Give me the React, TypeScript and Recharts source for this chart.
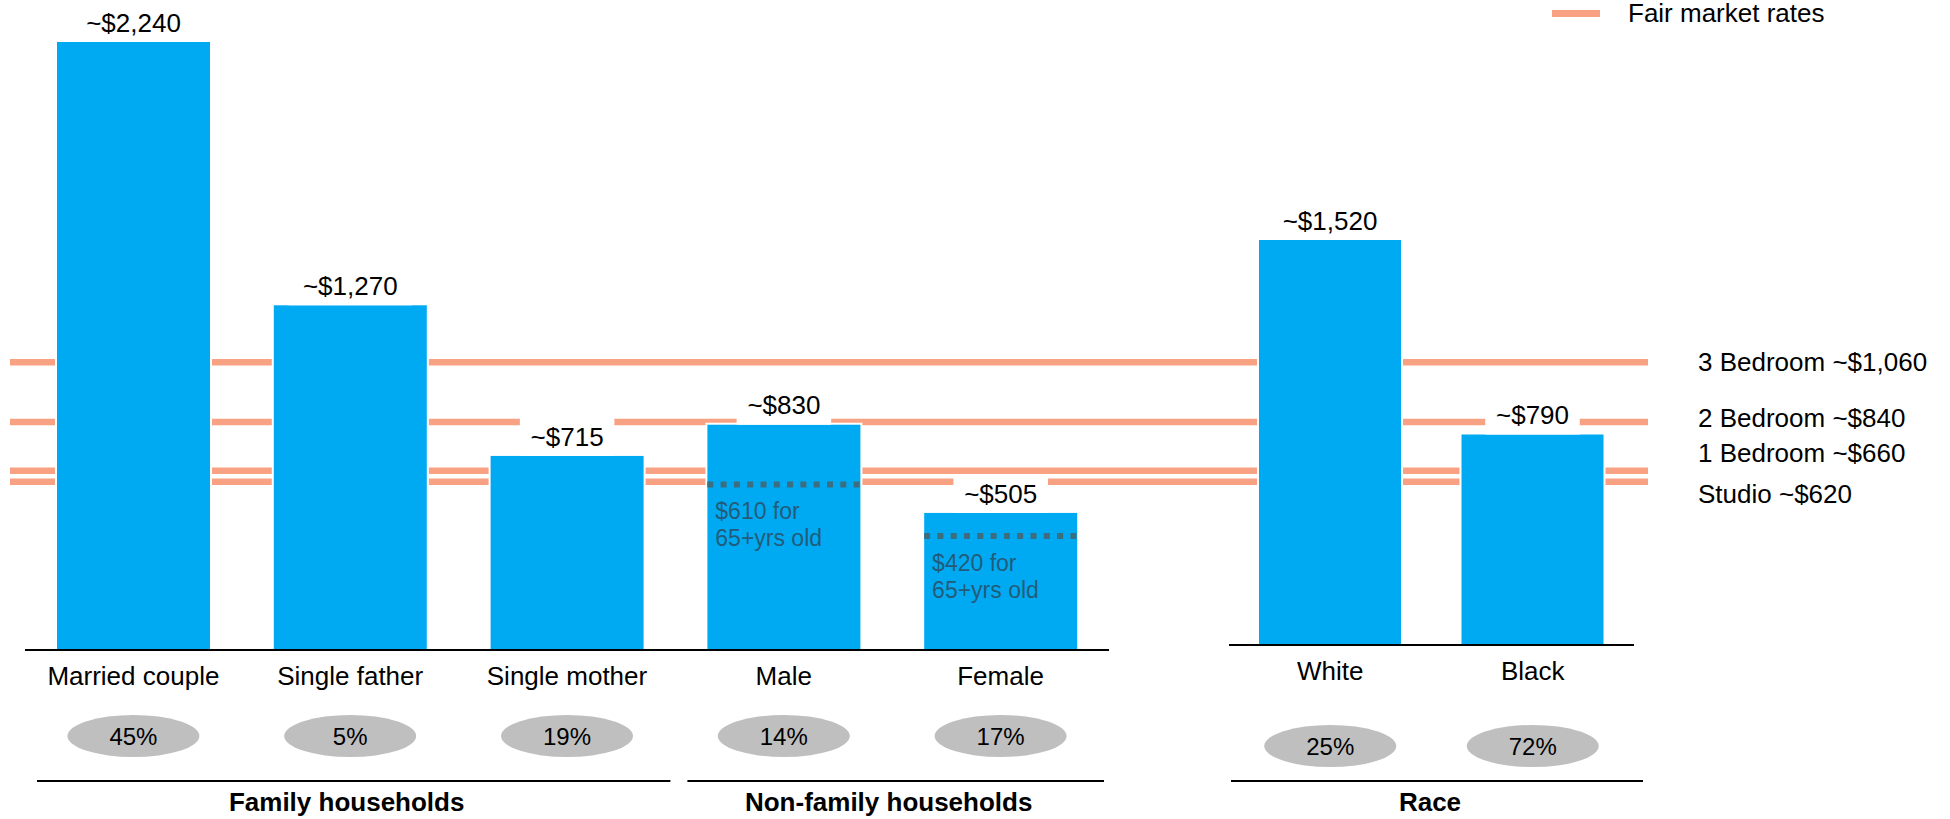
import {
    Bar,
    ComposedChart,
    LabelList,
    Line,
    ReferenceLine,
    XAxis,
    YAxis,
} from "recharts"

// household income by type, with the share of each group that is rent-burdened
const householdTypes = ["Married couple", "Single father", "Single mother", "Male", "Female"];
const householdIncome = [2240, 1270, 715, 830, 505];
const householdShare = [45, 5, 19, 14, 17];
const householdGroup = [
    "Family households",
    "Family households",
    "Family households",
    "Non-family households",
    "Non-family households",
];
const seniorIncome = [null, null, null, 610, 420];

const raceTypes = ["White", "Black"];
const raceIncome = [1520, 790];
const raceShare = [25, 72];
const raceGroup = ["Race", "Race"];

const rentTypes = ["3 Bedroom", "2 Bedroom", "1 Bedroom", "Studio"];
const fairMarketRent = [1060, 840, 660, 620];

const WIDTH = 1950;
const HEIGHT = 819;
const AXIS_HEIGHT = 150;
const BLUE = "#00AAF2";
const ORANGE = "#F8A283";
const PILL = "#BFBFBF";
const NOTE = "#215C7A";
const DOTS = "#3C6E80";
const FONT = "'Liberation Sans', Arial, sans-serif";

// rent lines run across both panels
const RULE_START = 10;
const RULE_END = 1648;
const RENT_LABEL_X = 1698;
const rentLabelNudge = [0, -4, -18, 12];

interface Row {
    name: string;
    income: number;
    share: number;
    group: string;
    senior?: number | null;
}

interface PanelLayout {
    left: number;
    right: number;
    top: number;
    base: number;
    max: number;
    barSize: number;
    labelDy: number;
    pillDy: number;
    ruleDy: number;
    titleDy: number;
    ruleInset: [number, number];
}

const householdRows: Row[] = householdTypes.map((name, i) => ({
    name,
    income: householdIncome[i],
    share: householdShare[i],
    group: householdGroup[i],
    senior: seniorIncome[i],
}));

const raceRows: Row[] = raceTypes.map((name, i) => ({
    name,
    income: raceIncome[i],
    share: raceShare[i],
    group: raceGroup[i],
}));

const householdLayout: PanelLayout = {
    left: 25,
    right: 1109,
    top: 42,
    base: 650,
    max: 2240,
    barSize: 153,
    labelDy: 26,
    pillDy: 86,
    ruleDy: 131,
    titleDy: 152,
    ruleInset: [12, 5],
};

const raceLayout: PanelLayout = {
    left: 1229,
    right: 1634,
    top: 240,
    base: 645,
    max: 1520,
    barSize: 142,
    labelDy: 26,
    pillDy: 101,
    ruleDy: 136,
    titleDy: 157,
    ruleInset: [2, -9],
};

const money = (v: number) => "$" + v.toLocaleString("en-US");

function GappedBar(props: any) {
    const { x, y, width, height } = props;
    if (width == null || height == null) return <g />;
    return (
        <g>
            <rect x={x - 2} y={y - 2} width={width + 4} height={height + 2} fill="#fff" />
            <rect x={x} y={y} width={width} height={height} fill={BLUE} />
        </g>
    );
}

// value above each bar sits on a white box that breaks the rent lines
function ValueLabel(props: any) {
    const vb = props.viewBox ?? props;
    const x = vb.x ?? props.x;
    const y = vb.y ?? props.y;
    const width = vb.width ?? props.width;
    const text = "~" + money(Number(props.value));
    const cx = x + width / 2;
    const cy = y - 19.5;
    const boxW = text.length * 14.5 + 22;
    return (
        <g>
            <rect x={cx - boxW / 2} y={cy - 19} width={boxW} height={y - (cy - 19)} fill="#fff" />
            <text x={cx} y={cy} dy="0.35em" textAnchor="middle" fontSize={26} fill="#000" fontFamily={FONT}>
                {text}
            </text>
        </g>
    );
}

function SeniorMark(props: any) {
    const { cx, cy, value } = props;
    if (value == null || cy == null || Number.isNaN(cy)) return <g key={props.index} />;
    const half = householdLayout.barSize / 2;
    const tx = cx - half + 8;
    return (
        <g key={props.index}>
            <line
                x1={cx - half}
                x2={cx + half}
                y1={cy}
                y2={cy}
                stroke={DOTS}
                strokeWidth={6}
                strokeDasharray="6 7.3"
            />
            <text x={tx} y={cy + 27} dy="0.35em" fontSize={23} fill={NOTE} fontFamily={FONT}>
                {money(value)} for
            </text>
            <text x={tx} y={cy + 54} dy="0.35em" fontSize={23} fill={NOTE} fontFamily={FONT}>
                65+yrs old
            </text>
        </g>
    );
}

function makeTick(rows: Row[], layout: PanelLayout) {
    const band = (layout.right - layout.left) / rows.length;
    return function CategoryTick(props: any) {
        const { x, y, payload } = props;
        const i = rows.findIndex((r) => r.name === payload.value);
        if (i < 0) return <g />;
        const row = rows[i];
        const firstOfGroup = i === 0 || rows[i - 1].group !== row.group;
        let rule = null;
        if (firstOfGroup) {
            const count = rows.filter((r) => r.group === row.group).length;
            const x0 = x - band / 2 + layout.ruleInset[0];
            const x1 = x - band / 2 + count * band - layout.ruleInset[1];
            rule = (
                <g>
                    <line x1={x0} x2={x1} y1={y + layout.ruleDy} y2={y + layout.ruleDy} stroke="#000" strokeWidth={2} />
                    <text
                        x={(x0 + x1) / 2 - 7}
                        y={y + layout.titleDy}
                        dy="0.35em"
                        textAnchor="middle"
                        fontSize={26}
                        fontWeight="bold"
                        fill="#000"
                        fontFamily={FONT}
                    >
                        {row.group}
                    </text>
                </g>
            );
        }
        return (
            <g>
                <text x={x} y={y + layout.labelDy} dy="0.35em" textAnchor="middle" fontSize={26} fill="#000" fontFamily={FONT}>
                    {row.name}
                </text>
                <ellipse cx={x} cy={y + layout.pillDy} rx={66} ry={21} fill={PILL} />
                <text x={x} y={y + layout.pillDy + 1} dy="0.35em" textAnchor="middle" fontSize={24} fill="#000" fontFamily={FONT}>
                    {row.share}%
                </text>
                {rule}
            </g>
        );
    };
}

function margins(layout: PanelLayout) {
    return {
        top: layout.top,
        left: layout.left,
        right: WIDTH - layout.right,
        bottom: HEIGHT - layout.base - AXIS_HEIGHT,
    };
}

function RentLine(index: number) {
    return function RentShape(p: any) {
        return (
            <g>
                <line x1={RULE_START} x2={RULE_END} y1={p.y1} y2={p.y2} stroke={ORANGE} strokeWidth={6.5} />
                <text
                    x={RENT_LABEL_X}
                    y={p.y1 + rentLabelNudge[index]}
                    dy="0.35em"
                    fontSize={26}
                    fill="#000"
                    fontFamily={FONT}
                >
                    {rentTypes[index]} ~{money(fairMarketRent[index])}
                </text>
            </g>
        );
    };
}

const householdTick = makeTick(householdRows, householdLayout);
const raceTick = makeTick(raceRows, raceLayout);

export default function App() {
    return (
        <div
            style={{
                position: "absolute",
                left: 0,
                top: 0,
                width: WIDTH,
                height: HEIGHT,
                background: "#fff",
                fontFamily: FONT,
            }}
        >
            <div style={{ position: "absolute", left: 0, top: 0 }}>
                <ComposedChart width={WIDTH} height={HEIGHT} data={householdRows} margin={margins(householdLayout)}>
                    <YAxis hide domain={[0, householdLayout.max]} />
                    <XAxis
                        dataKey="name"
                        interval={0}
                        height={AXIS_HEIGHT}
                        tickLine={false}
                        tickSize={0}
                        tickMargin={0}
                        axisLine={{ stroke: "#000", strokeWidth: 2 }}
                        tick={householdTick}
                    />
                    {fairMarketRent.map((rent, i) => (
                        <ReferenceLine key={rentTypes[i]} y={rent} zIndex={50} shape={RentLine(i)} />
                    ))}
                    <Bar
                        dataKey="income"
                        barSize={householdLayout.barSize}
                        shape={GappedBar}
                        isAnimationActive={false}
                    >
                        <LabelList dataKey="income" content={ValueLabel} />
                    </Bar>
                    <Line
                        dataKey="senior"
                        stroke="none"
                        dot={SeniorMark}
                        activeDot={false}
                        legendType="none"
                        isAnimationActive={false}
                    />
                </ComposedChart>
            </div>

            <div style={{ position: "absolute", left: 0, top: 0 }}>
                <ComposedChart width={WIDTH} height={HEIGHT} data={raceRows} margin={margins(raceLayout)}>
                    <YAxis hide domain={[0, raceLayout.max]} />
                    <XAxis
                        dataKey="name"
                        interval={0}
                        height={AXIS_HEIGHT}
                        tickLine={false}
                        tickSize={0}
                        tickMargin={0}
                        axisLine={{ stroke: "#000", strokeWidth: 2 }}
                        tick={raceTick}
                    />
                    <Bar
                        dataKey="income"
                        barSize={raceLayout.barSize}
                        shape={GappedBar}
                        isAnimationActive={false}
                    >
                        <LabelList dataKey="income" content={ValueLabel} />
                    </Bar>
                </ComposedChart>
            </div>

            <div
                style={{
                    position: "absolute",
                    left: 1552,
                    top: 0,
                    height: 26,
                    display: "flex",
                    alignItems: "center",
                }}
            >
                <span style={{ display: "inline-block", width: 48, height: 7, background: ORANGE }} />
                <span style={{ marginLeft: 28, fontSize: 26, lineHeight: "26px", color: "#000" }}>
                    Fair market rates
                </span>
            </div>
        </div>
    )
}
